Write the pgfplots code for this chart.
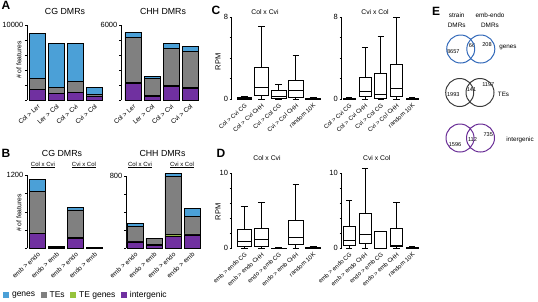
\documentclass[border=0pt]{standalone}
\usepackage{fontspec}
\setmainfont{Liberation Sans}
\usepackage{pgfplots}
\usepgfplotslibrary{statistics}
\pgfplotsset{compat=1.18}
\usepackage{pgfplotstable}

\definecolor{cGen}{RGB}{75,160,215}
\definecolor{cTE}{RGB}{128,128,128}
\definecolor{cTEG}{RGB}{150,195,60}
\definecolor{cInt}{RGB}{112,48,160}
\definecolor{vBlue}{RGB}{50,105,185}
\definecolor{vGrey}{RGB}{60,60,60}
\definecolor{vPur}{RGB}{105,45,150}

\newcommand{\fs}[1]{\fontsize{#1}{#1}\selectfont}

\pgfplotstableread{
x int teg tes gen
0 1350 40 1500 6040
1 850 30 810 5870
2 970 35 1525 5030
3 430 25 345 890
}\tACG
\pgfplotstableread{
x int teg tes gen
0 1320 90 3590 410
1 270 60 1400 160
2 1050 80 2980 405
3 920 70 2900 430
}\tACHH
\pgfplotstableread{
x int teg tes gen
0 240 12 678 204
1 5 3 8 14
2 165 9 456 44
3 3 1 3 3
}\tBCG
\pgfplotstableread{
x int teg tes gen
0 70 8 168 30
1 35 6 64 6
2 137 14 645 30
3 148 11 192 93
}\tBCHH

\pgfplotsset{
 base/.style={scale only axis, anchor=south west, clip=false, enlargelimits=false,
   axis y line*=left, axis x line*=bottom, x axis line style={draw=none},
   xtick style={draw=none}, ytick style={black, line width=0.5pt},
   tick align=outside, major tick length=2pt,
   y axis line style={line width=0.6pt}, scaled y ticks=false,
   yticklabel style={font=\fs{7.5}, inner sep=1.5pt},
   xticklabel style={rotate=42, anchor=north east, font=\fs{6.5}, inner sep=1pt},
   /pgf/number format/assume math mode=true},
 barax/.style={base, ybar stacked, bar width=0.84, xmax=3.5, xtick={0,1,2,3}, ymin=0},
 boxax/.style={base, xtick={0,...,4}, ymin=0, boxplot/draw direction=y, boxplot/whisker extend=0.4,
   xticklabel style={font=\fs{6}}},
 seg/.style={draw=black, line width=0.8pt, fill=#1},
}
\newcommand{\stack}[1]{%
 \addplot[seg=cInt] table[x=x,y=int]{#1};
 \addplot[seg=cTEG] table[x=x,y=teg]{#1};
 \addplot[seg=cTE] table[x=x,y=tes]{#1};
 \addplot[seg=cGen] table[x=x,y=gen]{#1};}
\newcommand{\bx}[6]{\addplot[boxplot prepared={draw position=#1, lower whisker=#2, lower quartile=#3, median=#4, upper quartile=#5, upper whisker=#6}, draw=black, fill=white, line width=0.9pt] coordinates {};}

\begin{document}
\begin{tikzpicture}
\path[use as bounding box] (0,0) rectangle (538pt,-301pt);

% ---------- panel letters
\node[font=\bfseries\fs{12}] at (6pt,-5.5pt) {A};
\node[font=\bfseries\fs{12}] at (6pt,-153pt) {B};
\node[font=\bfseries\fs{12}] at (216pt,-10pt) {C};
\node[font=\bfseries\fs{12}] at (221pt,-153pt) {D};
\node[font=\bfseries\fs{12}] at (436pt,-11pt) {E};

% ---------- A
\node[font=\fs{8.8}] at (65pt,-11pt) {CG DMRs};
\node[font=\fs{8.8}] at (163pt,-11pt) {CHH DMRs};
\node[font=\fs{6.8}, rotate=90] at (19pt,-60pt) {\# of features};

\begin{axis}[barax, at={(27pt,-100pt)}, width=77pt, height=75pt, xmin=-0.55,
  ymax=10000, ytick={0,2000,...,10000}, yticklabels={,,,,,10000},
  xticklabels={Col > Ler, Ler > Col, Col > Cvi, Cvi > Col}]
\stack{\tACG}
\end{axis}

\begin{axis}[barax, at={(121pt,-100pt)}, width=78.5pt, height=75pt, xmin=-0.63,
  ymax=6000, ytick={0,1200,...,6000}, yticklabels={,,,,,6000},
  xticklabels={Col > Ler, Ler > Col, Col > Cvi, Cvi > Col}]
\stack{\tACHH}
\end{axis}

% ---------- B
\node[font=\fs{8.8}] at (62pt,-153pt) {CG DMRs};
\node[font=\fs{8.8}] at (162.5pt,-153pt) {CHH DMRs};
\node[font=\fs{6}] at (43pt,-165pt) {\underline{Col x Cvi}};
\node[font=\fs{6}] at (84pt,-165pt) {\underline{Cvi x Col}};
\node[font=\fs{6}] at (140pt,-165pt) {\underline{Col x Cvi}};
\node[font=\fs{6}] at (182pt,-165pt) {\underline{Cvi x Col}};
\node[font=\fs{6.8}, rotate=90] at (19pt,-213pt) {\# of features};

\begin{axis}[barax, at={(27pt,-248.3pt)}, width=77pt, height=73pt, xmin=-0.55,
  ymax=1200, ytick={0,300,...,1200}, yticklabels={,,,,1200},
  xticklabels={emb > endo, endo > emb, emb > endo, endo > emb},
  legend columns=4,
  legend style={at={(axis description cs:-0.31,-0.64)}, anchor=west, draw=none, fill=none,
    font=\fs{8.5}, inner sep=0pt, outer sep=0pt,
    /tikz/every even column/.append style={column sep=3.5pt},
    /tikz/every odd column/.append style={column sep=1.5pt}},
  legend image code/.code={\fill[#1] (0pt,-2.4pt) rectangle (5pt,2.4pt);}]
\addlegendimage{cGen}\addlegendentry{genes}
\addlegendimage{cTE}\addlegendentry{TEs}
\addlegendimage{cTEG}\addlegendentry{TE genes}
\addlegendimage{cInt}\addlegendentry{intergenic}
\stack{\tBCG}
\end{axis}

\begin{axis}[barax, at={(126pt,-248.3pt)}, width=75.5pt, height=72.3pt, xmin=-0.47,
  ymax=800, ytick={0,200,...,800}, yticklabels={,,,,800},
  xticklabels={emb > endo, endo > emb, emb > endo, endo > emb}]
\stack{\tBCHH}
\end{axis}

% ---------- C
\node[font=\fs{6.8}] at (265pt,-12pt) {Col x Cvi};
\node[font=\fs{6.8}] at (375pt,-12pt) {Cvi x Col};
\node[font=\fs{7.5}, rotate=90] at (218pt,-62pt) {RPM};

\begin{axis}[boxax, at={(231.7pt,-99.3pt)}, width=90pt, height=82.3pt,
  xmin=-0.74, xmax=4.5, boxplot/box extend=0.85,
  ymax=8, ytick={0,2,4,6,8}, yticklabels={0,,,,8},
  xticklabels={Col > Cvi CG, Col > Cvi CHH, Cvi > Col CG, Cvi > Col CHH, random 10K}]
\bx{0}{0}{0.02}{0.06}{0.18}{0.32}
\bx{1}{0}{0.42}{1.17}{3.07}{7.1}
\bx{2}{0}{0.1}{0.25}{0.9}{1.4}
\bx{3}{0}{0.16}{0.84}{1.8}{4.3}
\bx{4}{0}{0.02}{0.04}{0.08}{0.15}
\end{axis}

\begin{axis}[boxax, at={(341.5pt,-99.3pt)}, width=79pt, height=82.3pt,
  xmin=-0.5, xmax=4.53, boxplot/box extend=0.75,
  ymax=8, ytick={0,2,4,6,8}, yticklabels={0,,,,8},
  xticklabels={Col > Cvi CG, Col > Cvi CHH, Cvi > Col CG, Cvi > Col CHH, random 10K}]
\bx{0}{0}{0.02}{0.04}{0.1}{0.2}
\bx{1}{0}{0.25}{0.74}{2.13}{5.0}
\bx{2}{0}{0.1}{0.49}{2.52}{6.08}
\bx{3}{0}{0.32}{1.07}{3.4}{8.0}
\bx{4}{0}{0.02}{0.05}{0.1}{0.18}
\end{axis}

% ---------- D
\node[font=\fs{6.8}] at (267pt,-158pt) {Col x Cvi};
\node[font=\fs{6.8}] at (376.7pt,-158pt) {Cvi x Col};
\node[font=\fs{7.5}, rotate=90] at (218pt,-211.7pt) {RPM};

\begin{axis}[boxax, at={(231.7pt,-248.3pt)}, width=90pt, height=75.3pt,
  xmin=-0.74, xmax=4.5, boxplot/box extend=0.85,
  ymax=10, ytick={0,2,...,10}, yticklabels={0,,,,,10},
  xticklabels={emb > endo CG, emb > endo CHH, endo > emb CG, endo > emb CHH, random 10K}]
\bx{0}{0}{0.2}{0.88}{2.44}{5.5}
\bx{1}{0}{0.3}{1.2}{2.67}{6.1}
\bx{2}{0}{0}{0.01}{0.03}{0.05}
\bx{3}{0}{0.53}{1.47}{3.68}{8.44}
\bx{4}{0}{0.03}{0.08}{0.15}{0.25}
\end{axis}

\begin{axis}[boxax, at={(341.5pt,-248.3pt)}, width=79pt, height=75.3pt,
  xmin=-0.5, xmax=4.53, boxplot/box extend=0.75,
  ymax=10, ytick={0,2,...,10}, yticklabels={0,,,,,10},
  xticklabels={emb > endo CG, emb > endo CHH, endo > emb CG, endo > emb CHH, random 10K}]
\bx{0}{0}{0.34}{1.09}{2.84}{6.36}
\bx{1}{0}{0.66}{1.84}{4.68}{10.6}
\bx{2}{0}{0}{0}{2.18}{2.18}
\bx{3}{0}{0.2}{0.39}{2.63}{6.14}
\bx{4}{0}{0.03}{0.06}{0.12}{0.2}
\end{axis}

% ---------- E (Venn)
\begin{axis}[scale only axis, anchor=south west, at={(425pt,-160pt)}, width=113pt, height=155pt,
  xmin=425, xmax=538, ymin=-160, ymax=-5, hide axis, clip=false]
\addplot[only marks, mark=o, mark size=14pt, vBlue, mark options={line width=1pt}] coordinates {(460.7,-49) (480.8,-49)};
\addplot[only marks, mark=o, mark size=14pt, vGrey, mark options={line width=1pt}] coordinates {(459.7,-92.5) (480,-92.5)};
\addplot[only marks, mark=o, mark size=14pt, vPur, mark options={line width=1pt}] coordinates {(460,-138) (480.5,-138)};
\node[font=\fs{6.4}] at (axis cs:456.7,-15.7) {strain};
\node[font=\fs{6.4}] at (axis cs:456.7,-25.7) {DMRs};
\node[font=\fs{6.4}] at (axis cs:490,-15.7) {emb-endo};
\node[font=\fs{6.4}] at (axis cs:490,-25.7) {DMRs};
\node[font=\fs{5.6}] at (axis cs:453.3,-51.7) {8657};
\node[font=\fs{5.6}] at (axis cs:472,-46) {66};
\node[font=\fs{5.6}] at (axis cs:487,-44.3) {208};
\node[font=\fs{6.3}] at (axis cs:508,-47) {genes};
\node[font=\fs{5.6}] at (axis cs:453.3,-95) {1993};
\node[font=\fs{5.6}] at (axis cs:471.5,-90) {141};
\node[font=\fs{5.6}] at (axis cs:488.3,-85) {1197};
\node[font=\fs{6.3}] at (axis cs:503.5,-94.3) {TEs};
\node[font=\fs{5.6}] at (axis cs:455,-145) {1596};
\node[font=\fs{5.6}] at (axis cs:472.5,-140) {112};
\node[font=\fs{5.6}] at (axis cs:488.3,-134.3) {735};
\node[font=\fs{6.3}] at (axis cs:520,-140) {intergenic};
\end{axis}
\end{tikzpicture}
\end{document}
